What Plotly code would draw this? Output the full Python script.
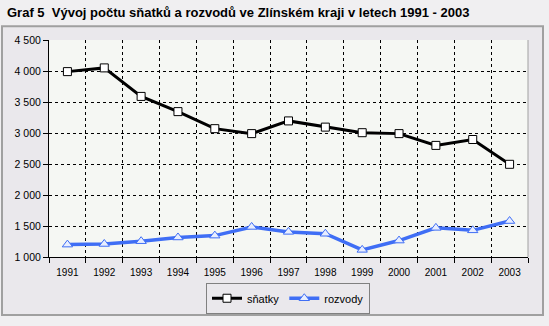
import plotly.graph_objects as go

years = ["1991","1992","1993","1994","1995","1996","1997","1998","1999","2000","2001","2002","2003"]
snatky = [3990, 4050, 3590, 3345, 3070, 2990, 3195, 3095, 3005, 2990, 2800, 2895, 2495]
rozvody = [1200, 1210, 1255, 1315, 1345, 1485, 1405, 1375, 1115, 1265, 1470, 1430, 1580]
yticks = [1000, 1500, 2000, 2500, 3000, 3500, 4000, 4500]
ytext = ["1 000", "1 500", "2 000", "2 500", "3 000", "3 500", "4 000", "4 500"]

W, H = 549, 326
L, R, T, B = 49, 21, 40, 65
pw, ph = W - L - R, H - T - B

def px(x):
    return (x - L) / pw

def py(y):
    return (H - B - y) / ph

fig = go.Figure()
fig.add_trace(go.Scatter(
    x=years, y=snatky, name="sňatky", mode="lines+markers",
    line=dict(color="black", width=3),
    marker=dict(symbol="square", size=8, color="white", line=dict(color="black", width=1)),
))
fig.add_trace(go.Scatter(
    x=years, y=rozvody, name="rozvody", mode="lines+markers",
    line=dict(color="#3F6EF5", width=3.5),
    marker=dict(symbol="triangle-up", size=9, color="#E8EEFF", line=dict(color="#3F6EF5", width=1)),
))

ox0, ox1, oy0, oy1 = px(2), px(543), py(320), py(26)
frame_path = (
    f"M {ox0},{oy0} L {ox1},{oy0} L {ox1},{oy1} L {ox0},{oy1} Z "
    f"M 0,0 L 0,1 L 1,1 L 1,0 Z"
)

fig.update_layout(
    width=W, height=H,
    margin=dict(l=L, r=R, t=T, b=B),
    paper_bgcolor="#F0EFF1",
    plot_bgcolor="#F5F7F3",
    font=dict(family="Liberation Sans, Arial", size=10, color="black"),
    showlegend=True,
    legend=dict(
        orientation="h", x=px(288), y=py(303), xanchor="center", yanchor="middle",
        bgcolor="#EAE8EC", bordercolor="#808080", borderwidth=1,
        font=dict(size=11), itemwidth=30, tracegroupgap=0,
    ),
    xaxis=dict(
        type="category", range=[-0.5, 12.5], tickson="boundaries",
        showgrid=True, gridcolor="black", griddash="3px,3px", gridwidth=1,
        showline=True, linecolor="black", linewidth=1,
        ticks="outside", ticklen=5, tickcolor="black",
        tickfont=dict(size=10), zeroline=False, ticklabelstandoff=6,
    ),
    yaxis=dict(
        range=[1000, 4500], tickvals=yticks, ticktext=ytext,
        showgrid=True, gridcolor="black", griddash="3px,3px", gridwidth=1,
        showline=True, linecolor="black", linewidth=1,
        ticks="outside", ticklen=5, tickcolor="black",
        tickfont=dict(size=10.5), zeroline=False,
    ),
    shapes=[
        dict(type="path", xref="paper", yref="paper", path=frame_path,
             fillcolor="#EAE8EC", fillrule="evenodd", line=dict(width=0), layer="below"),
        dict(type="rect", xref="paper", yref="paper",
             x0=ox0, x1=ox1, y0=oy0, y1=oy1,
             fillcolor="rgba(0,0,0,0)", line=dict(color="#A0A0A0", width=2), layer="below"),
        dict(type="line", xref="paper", yref="paper",
             x0=1, x1=1, y0=0, y1=1, line=dict(color="#A0A0A0", width=1), layer="above"),
    ],
    annotations=[
        dict(text="<b>Graf 5  Vývoj počtu sňatků a rozvodů ve Zlínském kraji v letech 1991 - 2003</b>",
             xref="paper", yref="paper", x=px(5), y=py(12), xanchor="left", yanchor="middle",
             showarrow=False, font=dict(family="Liberation Sans, Arial", size=13, color="black")),
    ],
)

fig.write_html("out.html")
